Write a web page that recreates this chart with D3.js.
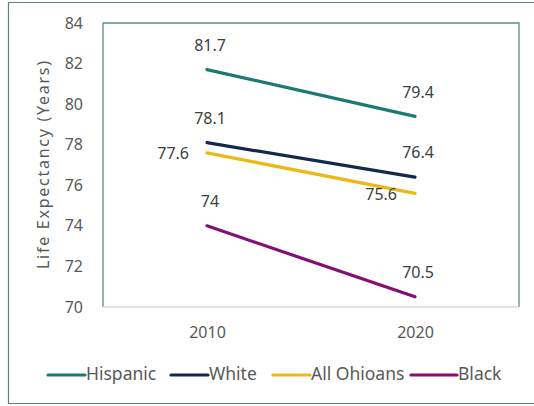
<!DOCTYPE html>
<html><head><meta charset="utf-8">
<script src="https://cdn.jsdelivr.net/npm/d3@7"></script>
<style>body{margin:0;background:#fff}svg{display:block}text{font-family:"Noto Sans","Open Sans",sans-serif}</style>
</head><body><svg id="c" width="534" height="406"></svg>
<script>
const years = ["2010", "2020"];
const seriesNames = ["Hispanic", "White", "All Ohioans", "Black"];
const hispanic = [81.7, 79.4];
const white = [78.1, 76.4];
const allOhioans = [77.6, 75.6];
const black = [74, 70.5];
const yTicks = [70, 72, 74, 76, 78, 80, 82, 84];
const colors = ["#1a7b72", "#13284a", "#eeb718", "#870f74"];
const labelPos = [["above","above"],["above","above"],["left","left"],["above","above"]];

const series = seriesNames.map((n,i)=>({name:n, values:[hispanic,white,allOhioans,black][i], color:colors[i], pos:labelPos[i]}));

const svg = d3.select("#c");
const L=103, T=23, R=519, B=307;
const x = d3.scalePoint().domain(years).range([L,R]).padding(0.5);
const y = d3.scaleLinear().domain([70,84]).range([B,T]);

// outer frame
svg.append("path").attr("d",`M534,2.5 H8.5 V403.5 H534`).attr("fill","none").attr("stroke","#5b8584").attr("stroke-width",1.2);

// plot frame
svg.append("path").attr("d",`M${L},${B} V${T} H${R} V${B}`).attr("fill","none").attr("stroke","#5f8c8b").attr("stroke-width",1.3);
svg.append("line").attr("x1",L).attr("x2",R).attr("y1",B).attr("y2",B).attr("stroke","#d9d9d9").attr("stroke-width",1.3);

// y axis ticks
const ya = svg.append("g").attr("transform",`translate(${L-20},0)`).call(d3.axisLeft(y).tickValues(yTicks).tickSize(0).tickPadding(0));
ya.select(".domain").remove();
ya.selectAll("text").attr("font-size",16).attr("fill","#595959").attr("font-family","Noto Sans");

// x axis
const xa = svg.append("g").attr("transform",`translate(0,${B+20})`).call(d3.axisBottom(x).tickSize(0).tickPadding(0));
xa.select(".domain").remove();
xa.selectAll("text").attr("font-size",16).attr("fill","#595959").attr("font-family","Noto Sans");

// y title
svg.append("text").attr("transform",`translate(45,${(T+B)/2}) rotate(-90)`).attr("text-anchor","middle").attr("dominant-baseline","middle")
  .attr("font-size",16).attr("fill","#595959").attr("textLength",208).attr("lengthAdjust","spacing").text("Life Expectancy (Years)");

const line = d3.line().x((d,i)=>x(years[i])).y(d=>y(d));
series.forEach(s=>{
  svg.append("path").attr("d",line(s.values)).attr("fill","none").attr("stroke",s.color).attr("stroke-width",3.2).attr("stroke-linecap","round");
  s.values.forEach((v,i)=>{
    const px=x(years[i]), py=y(v);
    const t = svg.append("text").attr("font-size",16).attr("fill","#404040").attr("dominant-baseline","middle").text(v);
    if(s.pos[i]==="above") t.attr("x",px+3).attr("y",py-23).attr("text-anchor","middle");
    else t.attr("x",px-18).attr("y",py+2).attr("text-anchor","end");
  });
});

// legend
const legX = [48, 171, 273, 411];
const legLen = [37, 37, 37, 46];
series.forEach((s,i)=>{
  svg.append("line").attr("x1",legX[i]).attr("x2",legX[i]+legLen[i]).attr("y1",375).attr("y2",375).attr("stroke",s.color).attr("stroke-width",3.2).attr("stroke-linecap","round");
  svg.append("text").attr("x",legX[i]+legLen[i]+1).attr("y",375).attr("dominant-baseline","middle").attr("font-size",17.5).attr("fill","#595959").text(s.name);
});
</script></body></html>
